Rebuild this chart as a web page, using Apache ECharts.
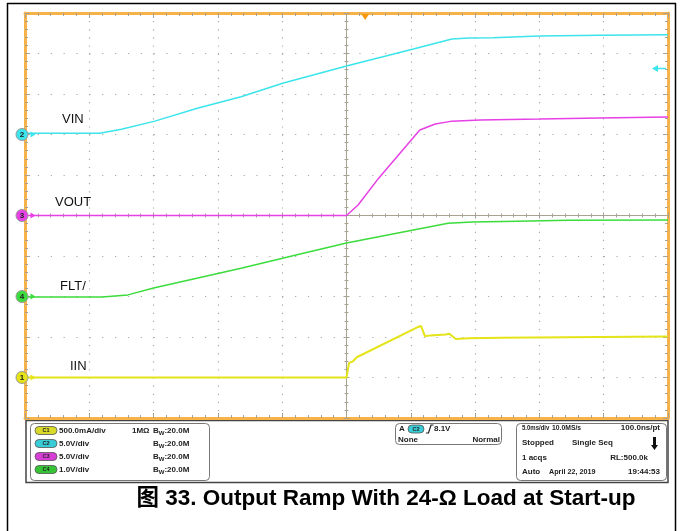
<!DOCTYPE html>
<html>
<head>
<meta charset="utf-8">
<script src="https://cdn.jsdelivr.net/npm/echarts@6/dist/echarts.min.js"></script>
<style>
  body { margin: 0; background: #fff; }
  #scope { width: 682px; height: 531px; }
</style>
</head>
<body>
<div id="scope"></div>
<script>
// time in ms (5 ms/div), level in divisions from screen centre
const vinTime = [-25, -19.2, -17.5, -14.9, -11.6, -8.2, -4.9, 0, 5.2, 8.2, 9.5, 11.4, 15, 19.7, 25];
const vinDiv = [2.03, 2.03, 2.13, 2.33, 2.65, 2.93, 3.27, 3.69, 4.11, 4.36, 4.38, 4.39, 4.43, 4.45, 4.46];

const voutTime = [-25, 0, 0.9, 2.4, 5.7, 6.9, 8.2, 10.4, 15, 19.7, 25];
const voutDiv = [0, 0, 0.26, 0.88, 2.11, 2.26, 2.33, 2.36, 2.38, 2.41, 2.43];

const fltTime = [-25, -19.0, -17.0, -15.0, -8.2, -3.6, 0, 7.9, 9.8, 13.3, 17.2, 25];
const fltDiv = [-2.01, -2.01, -1.96, -1.79, -1.30, -0.95, -0.68, -0.19, -0.16, -0.14, -0.12, -0.11];

const iinTime = [-25, 0, 0.05, 0.2, 0.5, 0.8, 5.5, 5.8, 6.1, 6.5, 7.7, 8.0, 8.5, 9.5, 12, 19.7, 25];
const iinDiv = [-4.0, -4.0, -3.97, -3.64, -3.60, -3.50, -2.76, -2.73, -2.98, -2.96, -2.94, -2.92, -3.05, -3.03, -3.02, -3.0, -2.99];

const channelNames = ['VIN', 'VOUT', 'FLT/', 'IIN'];
const channelNumbers = ['2', '3', '4', '1'];
const channelRefs = [2, 0, -2, -4];
const channelColors = ['#3CE4EC', '#E640E6', '#3CDC3C', '#E4E418'];

const scaleRows = [
  ['C1', '500.0mA/div', '1M\u03A9'],
  ['C2', '5.0V/div', ''],
  ['C3', '5.0V/div', ''],
  ['C4', '1.0V/div', '']
];
const pillColors = { C1: '#D9D92A', C2: '#3ACCD6', C3: '#D63ED6', C4: '#36C436' };

const triggerTime = 1.45;
const triggerLevel = 3.63;

const frameColor = '#F7B24A';
const tickColor = '#A8A292';
const font = '"Liberation Sans", Arial, sans-serif';

function zip(t, v) {
  return t.map((x, i) => [x, v[i]]);
}

function frameAxis(dim, pos, split) {
  const isX = dim === 'x';
  return {
    type: 'value',
    position: pos,
    min: isX ? -25 : -5,
    max: isX ? 25 : 5,
    interval: isX ? 5 : 1,
    axisLine: { onZero: false, lineStyle: { color: frameColor, width: 3 } },
    axisTick: { inside: true, length: 5, lineStyle: { color: tickColor } },
    minorTick: { show: true, splitNumber: 5, length: 3, lineStyle: { color: tickColor } },
    axisLabel: { show: false },
    splitLine: {
      show: split,
      lineStyle: { color: '#A8A8A8', width: 1.2, type: isX ? [1.2, 6.9] : [1.2, 11.66] }
    }
  };
}

function centreAxis(dim, inside) {
  const isX = dim === 'x';
  return {
    type: 'value',
    min: isX ? -25 : -5,
    max: isX ? 25 : 5,
    interval: isX ? 5 : 1,
    axisLine: { onZero: true, onZeroAxisIndex: 0, lineStyle: { color: tickColor, width: 1 } },
    axisTick: { inside: inside, length: 3, lineStyle: { color: tickColor } },
    minorTick: { show: true, splitNumber: 5, length: 2, lineStyle: { color: tickColor } },
    axisLabel: { show: false },
    splitLine: { show: false }
  };
}

function channelMarks(i) {
  return [
    {
      coord: [-25, channelRefs[i]],
      symbol: 'circle',
      symbolSize: 12,
      symbolOffset: [-3, 0],
      itemStyle: { color: channelColors[i], borderColor: '#999', borderWidth: 1 },
      label: { show: true, formatter: channelNumbers[i], color: '#222', fontSize: 8, fontWeight: 'bold', fontFamily: font }
    },
    {
      coord: [-25, channelRefs[i]],
      symbol: 'triangle',
      symbolSize: [6, 5],
      symbolRotate: -90,
      symbolOffset: [8, 0],
      itemStyle: { color: channelColors[i] },
      label: { show: false }
    }
  ];
}

const traces = [zip(vinTime, vinDiv), zip(voutTime, voutDiv), zip(fltTime, fltDiv), zip(iinTime, iinDiv)];

const series = traces.map((d, i) => ({
  name: channelNames[i],
  type: 'line',
  data: d,
  xAxisIndex: 0,
  yAxisIndex: 0,
  showSymbol: false,
  silent: true,
  lineStyle: { color: channelColors[i], width: i === 3 ? 2 : 1.5 },
  markPoint: { silent: true, data: channelMarks(i) }
}));

// trigger position (top) and trigger level (right) markers
series[0].markPoint.data.push(
  {
    coord: [triggerTime, 5],
    symbol: 'triangle',
    symbolSize: [8, 6],
    symbolRotate: 180,
    symbolOffset: [0, 4],
    itemStyle: { color: '#F59A10' },
    label: { show: false }
  },
  {
    coord: [25, triggerLevel],
    symbol: 'path://M0,5 L6,0 L6,4 L14,4 L14,6 L6,6 L6,10 Z',
    symbolSize: [14, 7],
    symbolOffset: [-9, 0],
    itemStyle: { color: channelColors[0] },
    label: { show: false }
  }
);

const labelPos = [[62, 120], [55, 203], [60, 287], [70, 367]];

const graphics = [];
// figure border
graphics.push(
  { type: 'line', shape: { x1: 7.5, y1: 3, x2: 7.5, y2: 531 }, style: { stroke: '#000', lineWidth: 1.5 } },
  { type: 'line', shape: { x1: 7, y1: 3.5, x2: 676, y2: 3.5 }, style: { stroke: '#000', lineWidth: 1.5 } },
  { type: 'line', shape: { x1: 675.5, y1: 3, x2: 675.5, y2: 531 }, style: { stroke: '#000', lineWidth: 1.5 } }
);
channelNames.forEach((n, i) => {
  graphics.push({
    type: 'text', left: labelPos[i][0], top: labelPos[i][1] - 7,
    style: { text: n, fill: '#111', font: '13px ' + font }
  });
});

// status panel
graphics.push(
  { type: 'rect', shape: { x: 26, y: 420.5, width: 642, height: 62 }, style: { fill: '#fff', stroke: '#444', lineWidth: 1.5 } },
  { type: 'rect', shape: { x: 30.5, y: 423.5, width: 179, height: 57, r: 4 }, style: { fill: '#fff', stroke: '#777', lineWidth: 1 } },
  { type: 'rect', shape: { x: 395.5, y: 423.5, width: 106, height: 21, r: 4 }, style: { fill: '#fff', stroke: '#777', lineWidth: 1 } },
  { type: 'rect', shape: { x: 516.5, y: 423.5, width: 150, height: 57, r: 4 }, style: { fill: '#fff', stroke: '#777', lineWidth: 1 } }
);

const smallBold = 'bold 8px ' + font;
function panelText(x, y, text, align, sx) {
  graphics.push({
    type: 'text', x: x, y: y, scaleX: sx || 1,
    style: { text: text, fill: '#222', font: smallBold, textAlign: align || 'left', textVerticalAlign: 'middle' }
  });
}
function pill(x, y, name, w) {
  w = w || 22;
  graphics.push(
    { type: 'rect', shape: { x: x, y: y - 4, width: w, height: 8, r: 4 }, style: { fill: pillColors[name], stroke: '#555', lineWidth: 0.8 } },
    { type: 'text', x: x + w / 2, y: y, style: { text: name, fill: '#222', font: 'bold 5.5px ' + font, textAlign: 'center', textVerticalAlign: 'middle' } }
  );
}

scaleRows.forEach((row, i) => {
  const y = 430.5 + i * 13;
  pill(35, y, row[0]);
  panelText(59, y, row[1]);
  if (row[2]) panelText(132, y, row[2]);
  graphics.push({
    type: 'text', x: 153, y: y,
    style: {
      text: '{b|B}{w|W}{b|:20.0M}',
      textVerticalAlign: 'middle',
      rich: {
        b: { font: smallBold, fill: '#222' },
        w: { font: 'bold 6px ' + font, fill: '#222', padding: [5, 0, 0, 0] }
      }
    }
  });
});

// trigger box
panelText(399, 429, 'A');
pill(408, 429, 'C2', 16);
graphics.push({
  type: 'polyline',
  shape: { points: [[426, 433], [428.5, 433], [431, 425], [433.5, 425]] },
  style: { stroke: '#222', lineWidth: 1.2, fill: null }
});
panelText(434, 429, '8.1V');
panelText(398, 440, 'None');
panelText(500, 440, 'Normal', 'right');

// acquisition box
panelText(522, 427.5, '5.0ms/div', 'left', 0.75);
panelText(552, 427.5, '10.0MS/s', 'left', 0.85);
panelText(660, 427.5, '100.0ns/pt', 'right');
panelText(522, 443, 'Stopped');
panelText(572, 443, 'Single Seq');
graphics.push({
  type: 'polygon',
  shape: { points: [[653, 437], [656, 437], [656, 445], [658, 445], [654.5, 450], [651, 445], [653, 445]] },
  style: { fill: '#111' }
});
panelText(522, 458, '1 acqs');
panelText(648, 458, 'RL:500.0k', 'right');
panelText(522, 472, 'Auto');
panelText(549, 472, 'April 22, 2019', 'left', 0.9);
panelText(660, 472, '19:44:53', 'right');

// caption
graphics.push({
  type: 'text', x: 386, y: 499,
  style: {
    text: '图 33. Output Ramp With 24-\u03A9 Load at Start-up',
    fill: '#000',
    font: 'bold 22.5px "Liberation Sans", "Noto Sans CJK SC", sans-serif',
    textAlign: 'center', textVerticalAlign: 'middle'
  }
});

const chart = echarts.init(document.getElementById('scope'), null, { renderer: 'canvas' });
chart.setOption({
  animation: false,
  backgroundColor: '#fff',
  grid: { left: 25, top: 13, width: 643, height: 405 },
  xAxis: [frameAxis('x', 'bottom', true), frameAxis('x', 'top', false), centreAxis('x', true), centreAxis('x', false)],
  yAxis: [frameAxis('y', 'left', true), frameAxis('y', 'right', false), centreAxis('y', true), centreAxis('y', false)],
  series: series,
  graphic: graphics
});
</script>
</body>
</html>
